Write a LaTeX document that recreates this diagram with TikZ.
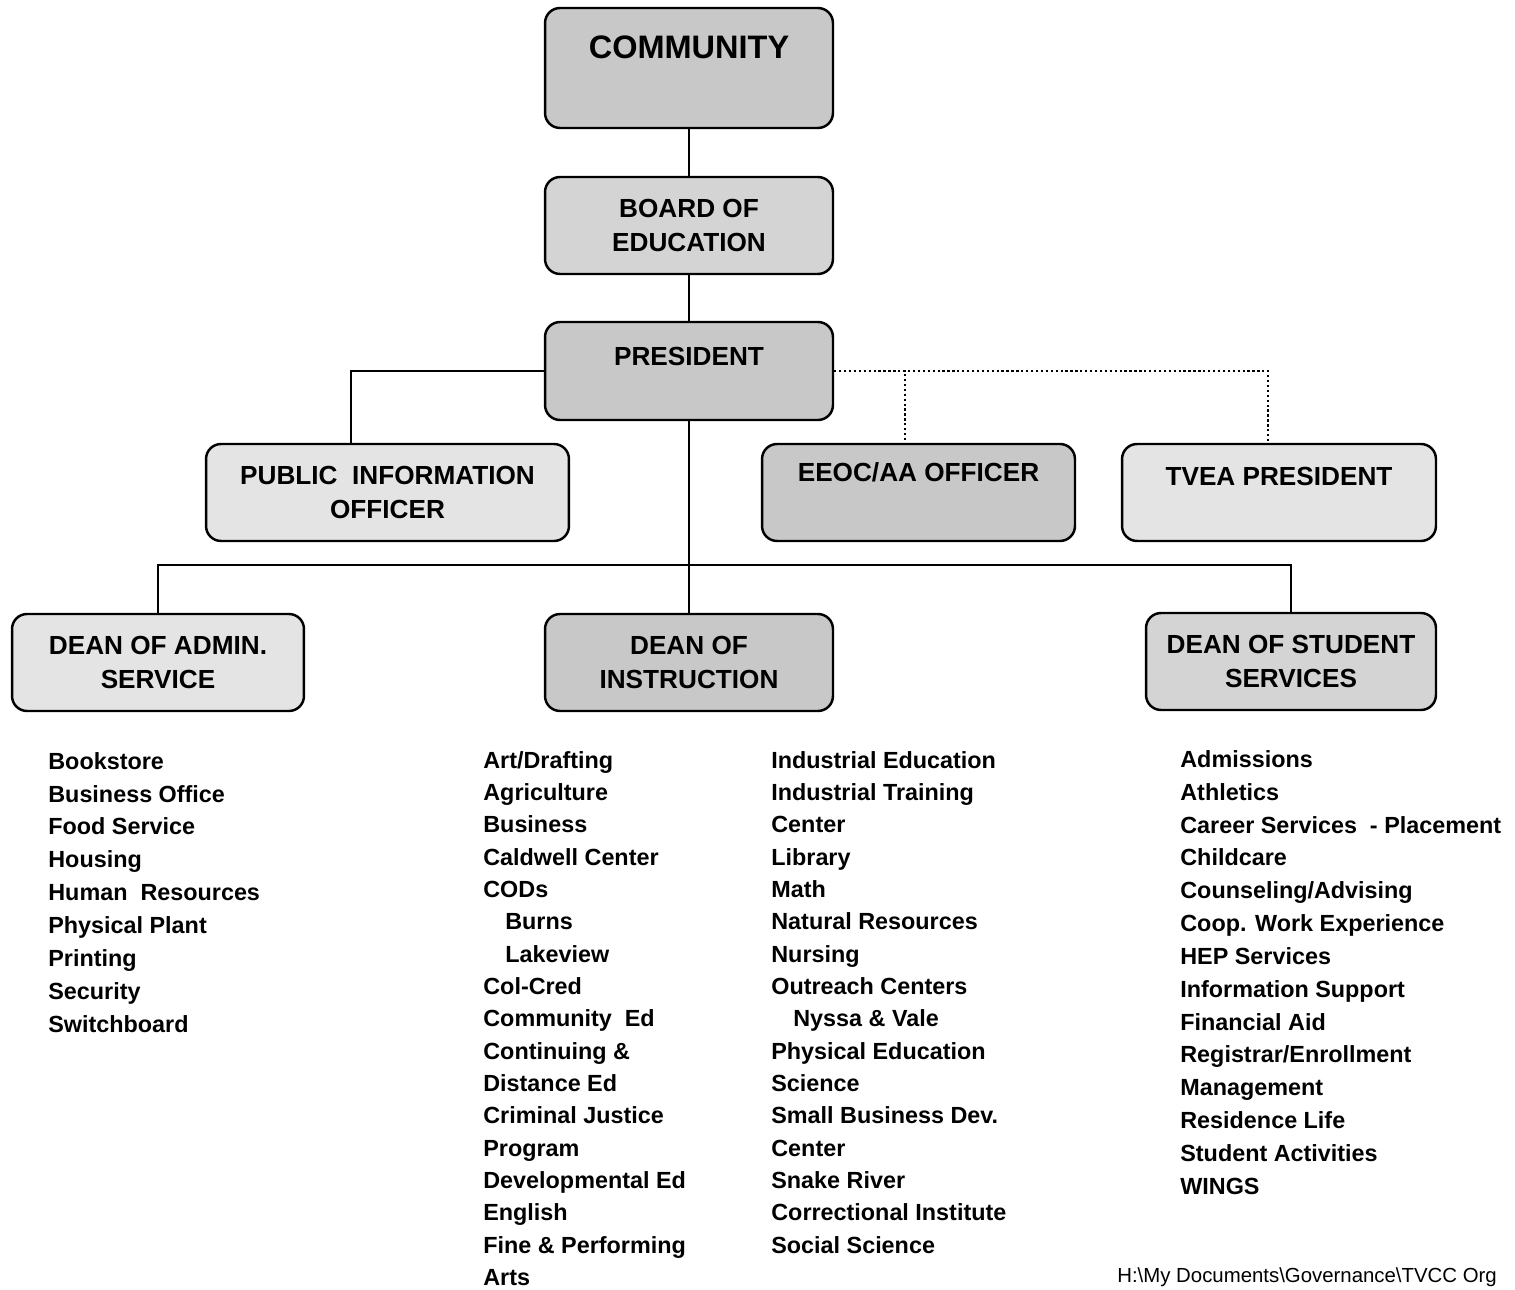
\documentclass[tikz,border=0pt]{standalone}
\usepackage{fontspec}
\setmainfont{Liberation Sans}
\usepackage{tikz}
\usetikzlibrary{positioning, calc}
\definecolor{boxdark}{RGB}{200, 200, 200}
\definecolor{boxmid}{RGB}{212, 212, 212}
\definecolor{boxlight}{RGB}{228, 228, 228}

\begin{document}
\begin{tikzpicture}[x=0.02cm, y=-0.02cm,
    box/.style={rectangle, rounded corners=0.3cm, draw, line width=1.4pt,
                minimum width=5.76cm, minimum height=1.94cm, inner sep=0pt, align=center,
                font=\fontsize{14.9}{19.3}\selectfont\bfseries},
    link/.style={line width=1.1pt},
    dotlink/.style={line width=1.3pt, dash pattern=on 1.3pt off 1.5pt},
    unitlist/.style={anchor=north west, inner sep=0pt, align=left,
                     font=\fontsize{13.3}{18.7}\selectfont\bfseries}]
    \useasboundingbox (0,0) rectangle (1515,1290);

    % Boxes
    \node[box, fill=boxdark, minimum height=2.4cm, text height=1.01cm, text depth=1.39cm,
          font=\fontsize{18.5}{22}\selectfont\bfseries] (community) at (689, 68) {COMMUNITY};
    \node[box, fill=boxmid] (board) at (689, 225.5) {BOARD OF\\EDUCATION};
    \node[box, fill=boxdark, minimum height=1.96cm, text height=0.88cm, text depth=1.08cm] (president) at (689, 371) {PRESIDENT};

    \node[box, fill=boxlight, minimum width=7.26cm] (pio) at (387.5, 492.5) {PUBLIC\ \ INFORMATION\\OFFICER};
    \node[box, fill=boxdark, minimum width=6.26cm, text height=0.74cm, text depth=1.2cm] (eeoc) at (918.5, 492.5) {EEOC/AA OFFICER};
    \node[box, fill=boxlight, minimum width=6.28cm, text height=0.82cm, text depth=1.12cm] (tvea) at (1279, 492.5) {TVEA PRESIDENT};

    \node[box, fill=boxlight, minimum width=5.84cm] (deanadmin) at (158, 662.5) {DEAN OF ADMIN.\\SERVICE};
    \node[box, fill=boxdark] (deaninstr) at (689, 662.5) {DEAN OF\\INSTRUCTION};
    \node[box, fill=boxmid, minimum width=5.8cm] (deanstudent) at (1291, 661.5) {DEAN OF STUDENT\\SERVICES};

    % Lines
    \coordinate (bus) at (689, 565);
    \draw[link] (community) -- (board);
    \draw[link] (board) -- (president);
    \draw[link] (president) -- (deaninstr);
    \draw[link] (president.west) -| ([xshift=-0.73cm]pio.north);
    \draw[link] (deanadmin.north) |- (bus) -| (deanstudent.north);
    \draw[dotlink] (president.east) -| ([xshift=-0.27cm]eeoc.north);
    \draw[dotlink] (president.east) -| ([xshift=-0.22cm]tvea.north);

    % Units
    \node[unitlist] (adminlist) at (48, 752) {Bookstore\\Business Office\\Food Service\\Housing\\Human\ \ Resources\\Physical Plant\\Printing\\Security\\Switchboard};
    \node[unitlist, font=\fontsize{13.3}{18.4}\selectfont\bfseries] (instrlistA) at (483, 751) {Art/Drafting\\Agriculture\\Business\\Caldwell Center\\CODs\\\hspace*{12.5pt}Burns\\\hspace*{12.5pt}Lakeview\\Col-Cred\\Community\ \ Ed\\Continuing \&\\Distance Ed\\Criminal Justice\\Program\\Developmental Ed\\English\\Fine \& Performing\\Arts};
    \node[unitlist, font=\fontsize{13.3}{18.4}\selectfont\bfseries] (instrlistB) at (771, 751) {Industrial Education\\Industrial Training\\Center\\Library\\Math\\Natural Resources\\Nursing\\Outreach Centers\\\hspace*{12.5pt}Nyssa \& Vale\\Physical Education\\Science\\Small Business Dev.\\Center\\Snake River\\Correctional Institute\\Social Science};
    \node[unitlist] (studentlist) at (1180, 750) {Admissions\\Athletics\\Career Services\ \ - Placement\\Childcare\\Counseling/Advising\\Coop. Work Experience\\HEP Services\\Information Support\\Financial Aid\\Registrar/Enrollment\\Management\\Residence Life\\Student Activities\\WINGS};

    \node[anchor=north west, inner sep=0pt, font=\fontsize{11.6}{13}\selectfont] (filepath) at (1117, 1267) {H:\textbackslash My Documents\textbackslash Governance\textbackslash TVCC Org};
\end{tikzpicture}
\end{document}
